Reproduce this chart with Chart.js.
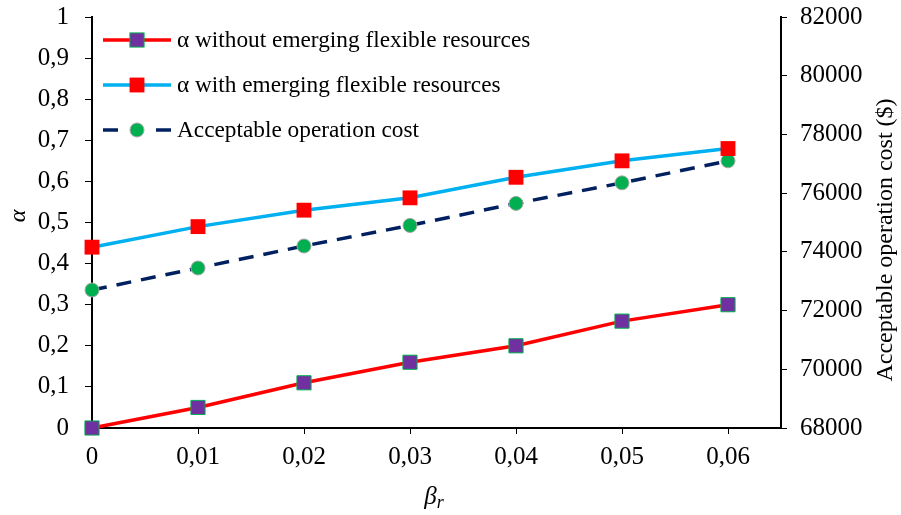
<!DOCTYPE html>
<html>
<head>
<meta charset="utf-8">
<script src="https://cdn.jsdelivr.net/npm/chart.js@4"></script>
<style>
  html, body { margin: 0; padding: 0; background: #fff; }
  #wrap { width: 901px; height: 515px; }
</style>
</head>
<body>
<div id="wrap"><canvas id="chart"></canvas></div>
<script>
// data
const betaR = [0, 0.01, 0.02, 0.03, 0.04, 0.05, 0.06];
const alphaWithout = [0, 0.05, 0.11, 0.16, 0.20, 0.26, 0.30];
const alphaWith = [0.44, 0.49, 0.53, 0.56, 0.61, 0.65, 0.68];
const acceptableCost = [72700, 73450, 74200, 74900, 75650, 76350, 77100];

const leftTicks = [0, 0.1, 0.2, 0.3, 0.4, 0.5, 0.6, 0.7, 0.8, 0.9, 1];
const rightTicks = [68000, 70000, 72000, 74000, 76000, 78000, 80000, 82000];

const seriesNames = [
    'α without emerging flexible resources',
    'α with emerging flexible resources',
    'Acceptable operation cost'
];

const FONT = '"Liberation Serif", "Times New Roman", serif';

function toPoints(xs, ys) {
    return xs.map((x, i) => ({x: x, y: ys[i]}));
}

function commaNum(v, digits) {
    if (Math.abs(v) < 1e-9) return '0';
    if (Math.abs(v - 1) < 1e-9) return '1';
    return v.toFixed(digits).replace('.', ',');
}

// legend inside the plot + axis titles that need rotation/subscript
const extrasPlugin = {
    id: 'extras',
    afterDraw(chart) {
        const ctx = chart.ctx;
        const sets = chart.data.datasets;
        ctx.save();
        const rows = [40, 85, 130];
        sets.forEach((ds, i) => {
            const y = rows[i];
            const x0 = 103, x1 = 171, mx = 137;
            ctx.strokeStyle = ds.borderColor;
            ctx.lineWidth = ds.borderWidth;
            if (ds.borderDash) {
                ctx.beginPath(); ctx.moveTo(x0, y); ctx.lineTo(x0 + 15, y); ctx.stroke();
                ctx.beginPath(); ctx.moveTo(x1 - 15, y); ctx.lineTo(x1, y); ctx.stroke();
            } else {
                ctx.beginPath(); ctx.moveTo(x0, y); ctx.lineTo(x1, y); ctx.stroke();
            }
            ctx.fillStyle = ds.pointBackgroundColor;
            ctx.strokeStyle = ds.pointBorderColor;
            ctx.lineWidth = ds.pointBorderWidth;
            const r = ds.pointRadius;
            if (ds.pointStyle === 'circle') {
                ctx.beginPath(); ctx.arc(mx, y, r, 0, Math.PI * 2); ctx.fill();
                if (ds.pointBorderWidth) ctx.stroke();
            } else {
                const s = r * Math.SQRT2;
                ctx.fillRect(mx - s / 2, y - s / 2, s, s);
                if (ds.pointBorderWidth) ctx.strokeRect(mx - s / 2, y - s / 2, s, s);
            }
            ctx.fillStyle = '#000';
            ctx.font = '23.3px ' + FONT;
            ctx.textBaseline = 'middle';
            ctx.textAlign = 'left';
            ctx.fillText(ds.label, 177, y + 1);
        });

        // left title
        ctx.font = 'italic 24px ' + FONT;
        ctx.textAlign = 'center';
        ctx.textBaseline = 'middle';
        ctx.save();
        ctx.translate(19, 216);
        ctx.rotate(-Math.PI / 2);
        ctx.fillText('α', 0, 0);
        ctx.restore();

        // right title
        ctx.font = '24px ' + FONT;
        ctx.save();
        ctx.translate(886, 240);
        ctx.rotate(-Math.PI / 2);
        ctx.fillText('Acceptable operation cost ($)', 0, 0);
        ctx.restore();

        // x title beta_r
        ctx.textAlign = 'left';
        ctx.textBaseline = 'alphabetic';
        ctx.font = 'italic 25px ' + FONT;
        const bw = ctx.measureText('β').width;
        ctx.font = 'italic 18px ' + FONT;
        const rw = ctx.measureText('r').width;
        const cx = 434 - (bw + rw) / 2;
        ctx.font = 'italic 25px ' + FONT;
        ctx.fillText('β', cx, 504);
        ctx.font = 'italic 18px ' + FONT;
        ctx.fillText('r', cx + bw, 508);
        ctx.restore();
    }
};

new Chart(document.getElementById('chart'), {
    type: 'line',
    data: {
        datasets: [
            {
                label: seriesNames[0],
                data: toPoints(betaR, alphaWithout),
                yAxisID: 'y',
                borderColor: '#FF0000',
                borderWidth: 3.5,
                pointStyle: 'rect',
                pointRadius: 10,
                pointBackgroundColor: '#7030A0',
                pointBorderColor: '#00B050',
                pointBorderWidth: 1,
                clip: false
            },
            {
                label: seriesNames[1],
                data: toPoints(betaR, alphaWith),
                yAxisID: 'y',
                borderColor: '#00B0F0',
                borderWidth: 3.5,
                pointStyle: 'rect',
                pointRadius: 10.5,
                pointBackgroundColor: '#FF0000',
                pointBorderColor: '#FF0000',
                pointBorderWidth: 0,
                clip: false
            },
            {
                label: seriesNames[2],
                data: toPoints(betaR, acceptableCost),
                yAxisID: 'y1',
                borderColor: '#002060',
                borderWidth: 3.5,
                borderDash: [15, 10],
                pointStyle: 'circle',
                pointRadius: 7,
                pointBackgroundColor: '#00B050',
                pointBorderColor: '#A6A6A6',
                pointBorderWidth: 1,
                clip: false
            }
        ]
    },
    options: {
        responsive: true,
        maintainAspectRatio: false,
        animation: false,
        layout: {padding: {top: 17, left: 0, right: 0, bottom: 0}},
        plugins: {
            legend: {display: false},
            tooltip: {enabled: false}
        },
        scales: {
            x: {
                type: 'linear',
                min: 0,
                max: 0.065,
                ticks: {
                    stepSize: 0.01,
                    includeBounds: false,
                    color: '#000',
                    font: {family: FONT, size: 25},
                    padding: 8,
                    callback: v => commaNum(v, 2)
                },
                grid: {drawOnChartArea: false, drawTicks: true, tickLength: 6, color: '#000', lineWidth: 1},
                border: {color: '#000', width: 2},
                afterFit(scale) {
                    scale.height = 87;
                    scale.paddingLeft = 0;
                    scale.paddingRight = 0;
                }
            },
            y: {
                position: 'left',
                min: 0,
                max: 1,
                afterBuildTicks(scale) { scale.ticks = leftTicks.map(v => ({value: v})); },
                ticks: {
                    color: '#000',
                    font: {family: FONT, size: 25},
                    padding: 16,
                    callback: v => commaNum(v, 1)
                },
                grid: {drawOnChartArea: false, drawTicks: true, tickLength: 7, color: '#000', lineWidth: 1},
                border: {color: '#000', width: 2},
                afterFit(scale) {
                    scale.width = 92;
                    scale.paddingTop = 0;
                    scale.paddingBottom = 0;
                }
            },
            y1: {
                position: 'right',
                min: 68000,
                max: 82000,
                afterBuildTicks(scale) { scale.ticks = rightTicks.map(v => ({value: v})); },
                ticks: {
                    color: '#000',
                    font: {family: FONT, size: 25},
                    padding: 13,
                    callback: v => String(v)
                },
                grid: {drawOnChartArea: false, drawTicks: true, tickLength: 6, color: '#000', lineWidth: 1},
                border: {color: '#000', width: 2},
                afterFit(scale) {
                    scale.width = 120;
                    scale.paddingTop = 0;
                    scale.paddingBottom = 0;
                }
            }
        }
    },
    plugins: [extrasPlugin]
});
</script>
</body>
</html>
